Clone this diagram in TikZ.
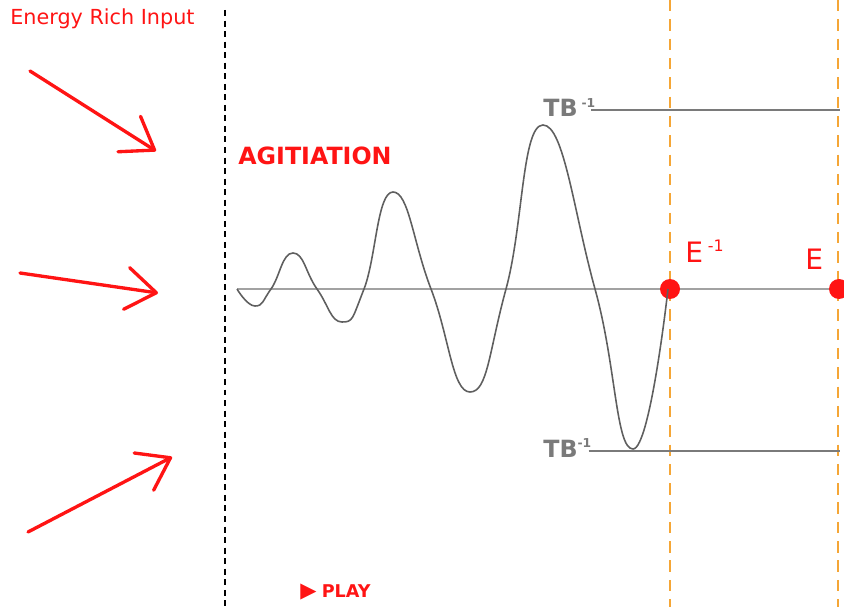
\documentclass[tikz,border=0pt]{standalone}
\usepackage{fontspec}
\setmainfont{DejaVu Sans}
\usetikzlibrary{positioning,arrows.meta}
\definecolor{agiRed}{HTML}{FF1414}
\definecolor{agiOrange}{HTML}{F5A636}
\definecolor{agiGray}{HTML}{7A7A7A}
\definecolor{waveGray}{HTML}{5F5F5F}

\begin{document}
\begin{tikzpicture}[
  x=0.02cm, y=-0.02cm,
  redlbl/.style={text=agiRed, inner sep=0pt, anchor=base west},
  tblbl/.style={text=agiGray, inner sep=0pt, anchor=base west,
                font=\fontsize{13.5}{15}\selectfont\bfseries},
  inarrow/.style={draw=agiRed, line width=1.9pt, line cap=round,
                  -{Straight Barb[length=6mm, width=8.4mm, round]}},
  level/.style={draw=agiGray, line width=1.7pt},
  marker/.style={draw=agiOrange, line width=1.1pt, dash pattern=on 6.5pt off 4.5pt},
  divider/.style={draw=black, line width=1pt, dash pattern=on 3.4pt off 2.6pt},
  dot/.style={circle, fill=agiRed, inner sep=0pt, minimum size=0.4cm}
]
  \useasboundingbox (0,0) rectangle (844,607);

  % dividers
  \coordinate (divTop) at (225,10);
  \coordinate (divBot) at (225,607);
  \draw[divider] (divTop) -- (divBot);
  \coordinate (eInvTop) at (670,0);
  \coordinate (eInvBot) at (670,607);
  \coordinate (eTop) at (838,0);
  \coordinate (eBot) at (838,607);
  \draw[marker] (eInvTop) -- (eInvBot);
  \draw[marker] (eTop) -- (eBot);

  % labels
  \node[redlbl, font=\fontsize{11.8}{13}\selectfont] (input) at (10,25) {Energy Rich Input};
  \node[redlbl, font=\fontsize{13.5}{15}\selectfont\bfseries] (agit) at (238,165) {AGITIATION};
  \node[redlbl, font=\fontsize{10}{12}\selectfont\bfseries] (play) at (300,597)
    {{\fontsize{12}{12}\selectfont ▶}\hspace{3pt}PLAY};
  \node[tblbl] (tbTop) at (543,117) {TB\,\textsuperscript{\fontsize{7}{8}\selectfont-1}};
  \node[tblbl] (tbBot) at (543,457) {TB\textsuperscript{\fontsize{7}{8}\selectfont-1}};
  \node[redlbl, font=\fontsize{16}{18}\selectfont] (eInvLbl) at (685,263) {E\,\textsuperscript{\fontsize{9}{10}\selectfont-1}};
  \node[redlbl, font=\fontsize{16}{18}\selectfont] (eLbl) at (805,270) {E};

  % input arrows
  \coordinate (inA) at (30,71);
  \coordinate (inAtip) at (156,151);
  \coordinate (inB) at (20,273);
  \coordinate (inBtip) at (158,293);
  \coordinate (inC) at (28,532);
  \coordinate (inCtip) at (172,457);
  \draw[inarrow] (inA) -- (inAtip);
  \draw[inarrow] (inB) -- (inBtip);
  \draw[inarrow] (inC) -- (inCtip);

  % levels
  \coordinate (tbTopEnd) at (840,110);
  \coordinate (tbBotEnd) at (840,451);
  \draw[level] (tbTop.east |- tbTopEnd) ++(-5,0) -- (tbTopEnd);
  \draw[level] (tbBot.east |- tbBotEnd) ++(-4,0) -- (tbBotEnd);

  % axis and wave
  \coordinate (axisStart) at (237,289);
  \node[dot] (dotEInv) at (670,289) {};
  \node[dot] (dotE) at (839,289) {};
  \draw[draw=agiGray!70, line width=0.7pt] (axisStart) -- (dotEInv) -- (dotE);
  \draw[draw=waveGray, line width=0.9pt] plot[smooth, tension=0.85] coordinates {
    (237,289) (255,306) (271,289) (293,253) (317,289) (342,322)
    (364,289) (393,192) (431,289) (470,392) (506,289) (543,125)
    (595,289) (633,449) (668,289)};
\end{tikzpicture}
\end{document}
